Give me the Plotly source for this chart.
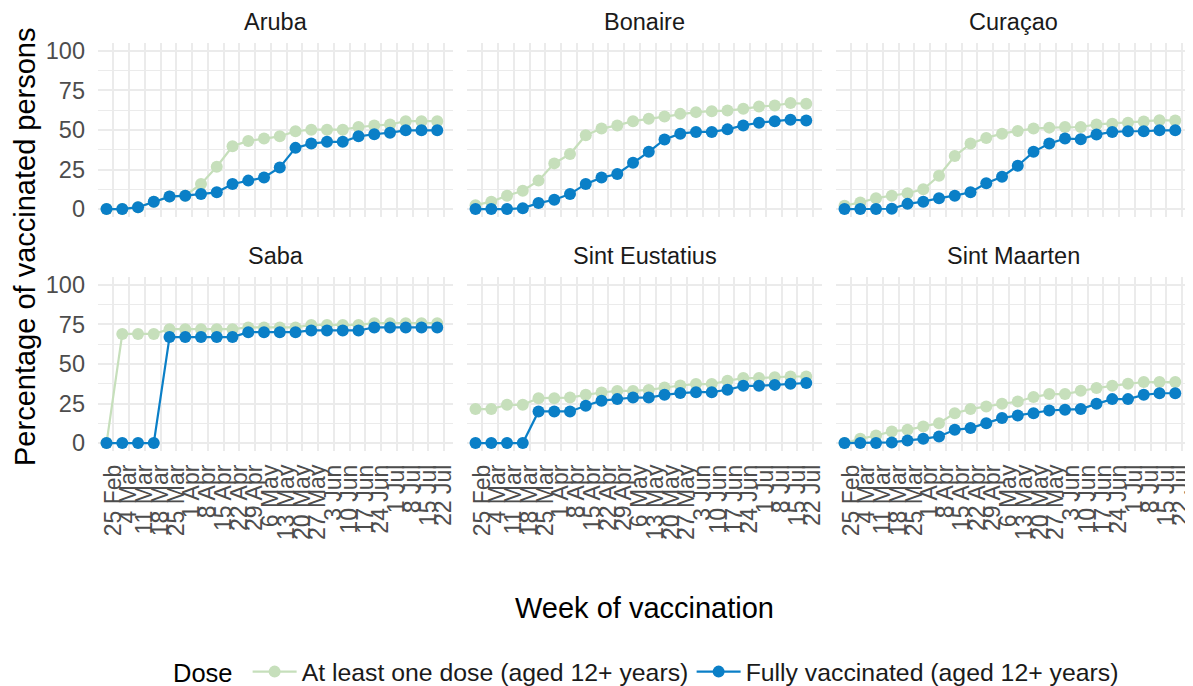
import plotly.graph_objects as go
import pandas as pd

# ---- data ----
islands = ["Aruba", "Bonaire", "Curaçao", "Saba", "Sint Eustatius", "Sint Maarten"]
week_start = pd.date_range("2021-02-22", periods=22, freq="7D")
tick_dates = pd.date_range("2021-02-25", periods=22, freq="7D")
tick_labels = ["25 Feb", "4 Mar", "11 Mar", "18 Mar", "25 Mar", "1 Apr", "8 Apr", "15 Apr",
               "22 Apr", "29 Apr", "6 May", "13 May", "20 May", "27 May", "3 Jun", "10 Jun",
               "17 Jun", "24 Jun", "1 Jul", "8 Jul", "15 Jul", "22 Jul"]

at_least_one = {
    "Aruba": [0, 0, 1.2, 4.7, 7.9, 8.5, 15.9, 26.8, 39.7, 43.1, 44.6, 46.0, 49.2, 50.2, 50.2,
              50.2, 51.9, 52.9, 53.5, 55.6, 55.6, 55.6],
    "Bonaire": [2.5, 4.7, 8.5, 11.6, 18.0, 28.9, 34.8, 46.7, 50.9, 52.9, 55.6, 57.1, 58.6, 60.2,
                61.3, 61.9, 62.3, 63.4, 64.8, 65.5, 67.0, 66.6],
    "Curaçao": [2.1, 4.2, 6.9, 8.5, 10.0, 12.5, 21.1, 33.5, 41.4, 45.0, 47.7, 49.4, 50.9, 51.5,
                51.9, 51.9, 53.5, 54.0, 54.6, 55.4, 56.2, 56.0],
    "Saba": [0, 69.0, 69.0, 69.0, 72.0, 72.0, 72.0, 72.0, 72.0, 73.1, 73.1, 73.1, 73.1, 74.7,
             74.7, 74.7, 74.7, 75.8, 75.8, 75.8, 75.8, 75.8],
    "Sint Eustatius": [21.5, 21.5, 24.2, 24.2, 28.4, 28.4, 28.8, 30.5, 32.0, 33.0, 33.0, 33.6,
                       35.1, 36.4, 37.3, 37.3, 39.4, 41.1, 41.1, 41.7, 42.1, 42.1],
    "Sint Maarten": [0, 2.7, 4.8, 7.4, 8.4, 10.5, 12.6, 18.9, 21.5, 23.2, 24.8, 26.3, 29.1, 31.0,
                     31.0, 33.1, 34.8, 36.2, 37.5, 38.6, 38.6, 38.6],
}
fully = {
    "Aruba": [0, 0, 1.2, 4.7, 7.9, 8.5, 9.5, 10.6, 15.9, 18.0, 20.0, 26.3, 38.7, 41.4, 42.5,
              42.5, 46.0, 47.3, 48.3, 49.8, 49.8, 49.8],
    "Bonaire": [0, 0, 0, 0.6, 3.8, 5.9, 9.5, 15.9, 19.9, 22.2, 29.3, 36.2, 44.0, 47.7, 48.8,
                48.8, 50.4, 52.9, 54.6, 55.6, 56.5, 56.0],
    "Curaçao": [0, 0, 0, 0.2, 3.3, 4.7, 6.9, 8.5, 10.6, 16.3, 20.5, 27.4, 36.2, 41.4, 44.6,
                44.2, 47.1, 48.8, 49.2, 49.2, 49.8, 49.8],
    "Saba": [0, 0, 0, 0, 67.0, 67.0, 67.0, 67.0, 67.0, 70.1, 70.1, 70.1, 70.1, 71.2, 71.2,
             71.2, 71.2, 73.1, 73.1, 73.1, 73.1, 73.1],
    "Sint Eustatius": [0, 0, 0, 0, 20.0, 20.0, 20.0, 23.6, 26.8, 27.8, 28.8, 28.8, 30.5, 31.6,
                       32.2, 32.2, 33.7, 36.2, 36.2, 36.8, 37.5, 38.0],
    "Sint Maarten": [0, 0, 0, 0.4, 1.7, 2.7, 4.2, 8.4, 9.5, 12.6, 15.8, 17.5, 18.9, 20.6, 21.1,
                     21.5, 24.8, 27.8, 27.8, 30.5, 31.5, 31.5],
}
series_names = ["At least one dose (aged 12+ years)", "Fully vaccinated (aged 12+ years)"]
y_ticks = [0, 25, 50, 75, 100]

# ---- style ----
GREEN = "#c6dfbb"
BLUE = "#0a7fc7"
GRID = "#ebebeb"
FONT = "Liberation Sans, Arial, sans-serif"

OFF = 8  # page body margin in the browser
W, H = 1193 - OFF, 686 - OFF
ml, mr, mt, mb = 98 - OFF, 2, 43 - OFF, 235
pw, ph = W - ml - mr, H - mt - mb

def fx(px):
    return (px - OFF - ml) / pw

def fy(py):
    return (H - mb - (py - OFF)) / ph

col_px = [(98, 453), (467, 822), (836, 1191)]
row_px = [(43, 217), (277, 451)]

fig = go.Figure()
layout = {}
xr = ["2021-02-18 05:00", "2021-07-26 00:00"]

for i, isl in enumerate(islands):
    r, c = divmod(i, 3)
    n = i + 1
    xa = "x" if n == 1 else f"x{n}"
    ya = "y" if n == 1 else f"y{n}"
    for name, data, col in [(series_names[0], at_least_one, GREEN), (series_names[1], fully, BLUE)]:
        fig.add_trace(go.Scatter(
            x=week_start, y=data[isl], mode="lines+markers", name=name,
            line=dict(color=col, width=2.2), marker=dict(color=col, size=12),
            xaxis=xa, yaxis=ya, showlegend=(i == 0), legendgroup=name,
        ))
    layout["xaxis" if n == 1 else f"xaxis{n}"] = dict(
        domain=[fx(col_px[c][0]), fx(col_px[c][1])], anchor=ya, range=xr, type="date",
        tickvals=tick_dates, ticktext=tick_labels, showticklabels=(r == 1),
        tickangle=-90, tickfont=dict(family=FONT, size=23, color="#4d4d4d"),
        showgrid=True, gridcolor=GRID, gridwidth=1.5, zeroline=False, showline=False,
        ticks="", ticklabelstandoff=8, automargin=False, ticklabeloverflow="allow",
    )
    layout["yaxis" if n == 1 else f"yaxis{n}"] = dict(
        domain=[fy(row_px[r][1]), fy(row_px[r][0])], anchor=xa, range=[-5, 105],
        tickvals=y_ticks, showticklabels=(c == 0),
        tickfont=dict(family=FONT, size=23.5, color="#4d4d4d"),
        showgrid=True, gridcolor=GRID, gridwidth=1.5, zeroline=False, showline=False,
        ticks="", ticklabelstandoff=12, automargin=False,
        minor=dict(dtick=12.5, tick0=0, showgrid=True, gridcolor=GRID, gridwidth=1.2),
    )

annotations = []
for i, isl in enumerate(islands):
    r, c = divmod(i, 3)
    cx = (col_px[c][0] + col_px[c][1]) / 2
    annotations.append(dict(
        text=isl, x=fx(cx), y=fy(row_px[r][0] - 21),
        xref="paper", yref="paper", showarrow=False, xanchor="center", yanchor="middle",
        font=dict(family=FONT, size=23.5, color="#1a1a1a"),
    ))
annotations.append(dict(
    text="Percentage of vaccinated persons", x=fx(25), y=fy(247),
    xref="paper", yref="paper", showarrow=False, textangle=-90,
    xanchor="center", yanchor="middle", font=dict(family=FONT, size=29, color="#000000"),
))
annotations.append(dict(
    text="Week of vaccination", x=fx(644), y=fy(608),
    xref="paper", yref="paper", showarrow=False,
    xanchor="center", yanchor="middle", font=dict(family=FONT, size=29, color="#000000"),
))

fig.update_layout(
    width=W, height=H, margin=dict(l=ml, r=mr, t=mt, b=mb, autoexpand=False),
    plot_bgcolor="white", paper_bgcolor="white",
    annotations=annotations,
    legend=dict(
        orientation="h", x=fx(171), xanchor="left",
        y=fy(672), yanchor="middle",
        title=dict(text="Dose ", font=dict(family=FONT, size=25.5, color="#000000")),
        font=dict(family=FONT, size=24.8, color="#1a1a1a"),
        itemwidth=44, entrywidth=385, entrywidthmode="pixels",
    ),
    **layout,
)

fig.write_html("out.html")
